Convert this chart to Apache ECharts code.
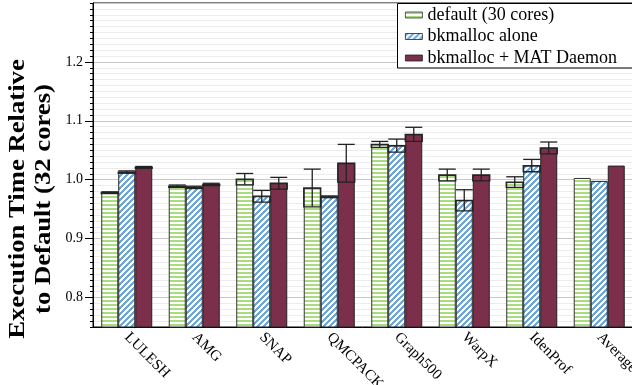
<!DOCTYPE html>
<html><head><meta charset="utf-8">
<script src="https://cdn.jsdelivr.net/npm/echarts@6/dist/echarts.min.js"></script>
<style>html,body{margin:0;padding:0;background:#fff}#c{width:632px;height:385px}</style>
</head><body><div id="c"></div>
<script>
const categories = ['LULESH','AMG','SNAP','QMCPACK','Graph500','WarpX','IdenProf','Average'];
const seriesNames = ['default (30 cores)','bkmalloc alone','bkmalloc + MAT Daemon'];
const defaultVals = [0.978,0.989,1.001,0.986,1.060,1.008,0.996,1.003];
const defaultErr  = [0.0015,0.002,0.0096,0.032,0.005,0.010,0.009,0];
const bkmallocVals = [1.013,0.987,0.972,0.971,1.058,0.965,1.024,0.998];
const bkmallocErr  = [0.002,0.002,0.010,0.0015,0.011,0.018,0.0105,0];
const matVals = [1.021,0.992,0.994,1.028,1.077,1.008,1.054,1.024];
const matErr  = [0.0015,0.002,0.010,0.032,0.012,0.010,0.010,0];
const yTickLabels = [0.8,0.9,1.0,1.1,1.2];
const yAxisTitle = 'Execution Time Relative\nto Default (32 cores)';

const allVals = [defaultVals, bkmallocVals, matVals];
const allErr = [defaultErr, bkmallocErr, matErr];
const errData = [];
allVals.forEach((vals, si) => vals.forEach((v, ci) => {
  if (allErr[si][ci] > 0) errData.push([ci, si, v, allErr[si][ci]]);
}));
const CAT_GAP = 0.244;
const splitColors = [];
for (let i = 0; i < 10; i++) splitColors.push(i === 5 ? '#c8c8c8' : '#ececec');

function makePattern(size, test, rgb) {
  const c = document.createElement('canvas');
  c.width = size; c.height = size;
  const ctx = c.getContext('2d');
  const img = ctx.createImageData(size, size);
  for (let y = 0; y < size; y++) for (let x = 0; x < size; x++) {
    const k = (y*size + x)*4;
    const on = test(x, y);
    img.data[k] = on ? rgb[0] : 255;
    img.data[k+1] = on ? rgb[1] : 255;
    img.data[k+2] = on ? rgb[2] : 255;
    img.data[k+3] = 255;
  }
  ctx.putImageData(img, 0, 0);
  return c;
}
const greenTile = makePattern(4, (x, y) => (y % 4) < 2, [169, 220, 126]);
const blueTile = makePattern(6, (x, y) => ((x + y) % 6) < 3, [110, 166, 216]);

const SERIF = '"Liberation Serif", "Times New Roman", serif';
const chart = echarts.init(document.getElementById('c'), null, {renderer:'canvas'});
const barBase = {type:'bar', barGap:'0%', barCategoryGap:(CAT_GAP*100)+'%'};
chart.setOption({
  animation:false,
  grid:{left:93, top:3, width:540, height:324, show:true, borderColor:'#000', borderWidth:1,
    containLabel:false, outerBoundsMode:'none'},
  legend:{
    data:seriesNames, orient:'vertical', left:397, top:3, itemWidth:17, itemHeight:6, itemGap:3.5,
    padding:[3,10,2,8], borderWidth:0, z:10,
    icon:'rect', itemStyle:{borderWidth:0.8},
    textStyle:{fontFamily:SERIF, fontSize:18, color:'#000'}
  },
  xAxis:{
    type:'category', data:categories,
    axisLine:{lineStyle:{color:'#000', width:1}}, axisTick:{show:false},
    axisLabel:{rotate:-45, interval:0, margin:8, fontFamily:SERIF, fontSize:15, color:'#000'},
    splitLine:{show:false}
  },
  yAxis:[{
    type:'value', min:0.75, max:1.3, interval:0.01,
    axisLine:{show:true, lineStyle:{color:'#000', width:1}},
    axisTick:{show:true, length:3, lineStyle:{color:'#000'}},
    axisLabel:{customValues:yTickLabels, formatter:v=>v.toFixed(1), fontFamily:SERIF, fontSize:14, color:'#000', margin:10},
    splitLine:{show:true, lineStyle:{color:splitColors, width:1}}
  },{
    type:'value', min:0.75, max:1.3, interval:0.01, position:'left',
    axisLine:{show:false},
    axisTick:{show:true, length:8, customValues:yTickLabels, lineStyle:{color:'#000'}},
    axisLabel:{show:false}, splitLine:{show:false}
  }],
  graphic:[{
    type:'rect', z:8, shape:{x:397.5, y:3.5, width:260, height:64.5},
    style:{fill:'#fff', stroke:'#000', lineWidth:1}
  },{
    type:'text', x:31, y:199, rotation:Math.PI/2, scaleX:1.16,
    style:{text:yAxisTitle, fontFamily:SERIF, fontWeight:'bold', fontSize:23, lineHeight:26,
      align:'center', verticalAlign:'middle', fill:'#000'}
  }],
  series:[
    Object.assign({}, barBase, {name:seriesNames[0], data:defaultVals,
      itemStyle:{color:{image:greenTile, repeat:'repeat'}, borderColor:'#333', borderWidth:1}}),
    Object.assign({}, barBase, {name:seriesNames[1], data:bkmallocVals,
      itemStyle:{color:{image:blueTile, repeat:'repeat'}, borderColor:'#222', borderWidth:1}}),
    Object.assign({}, barBase, {name:seriesNames[2], data:matVals,
      itemStyle:{color:'#7b2f4b', borderColor:'#222', borderWidth:1}}),
    {type:'custom', name:'err', data:errData, encode:{x:0, y:2}, z:5,
      renderItem:function(params, api){
        const ci = api.value(0), si = api.value(1), m = api.value(2), e = api.value(3);
        const catW = api.size([1,0])[0];
        const bw = catW*(1-CAT_GAP)/3;
        const cx = api.coord([ci, m])[0] + (si-1)*bw;
        const yTop = api.coord([ci, m+e])[1], yMid = api.coord([ci, m])[1], yLow = api.coord([ci, m-e])[1];
        const st = {stroke:'#222', lineWidth:1.3, fill:null};
        return {type:'group', children:[
          {type:'rect', shape:{x:cx-bw/2, y:yMid, width:bw, height:yLow-yMid}, style:{stroke:'#222', lineWidth:1.3, fill:null}},
          {type:'line', shape:{x1:cx, y1:yLow, x2:cx, y2:yTop}, style:st},
          {type:'line', shape:{x1:cx-bw/2, y1:yTop, x2:cx+bw/2, y2:yTop}, style:st}
        ]};
      }}
  ]
});
</script></body></html>
